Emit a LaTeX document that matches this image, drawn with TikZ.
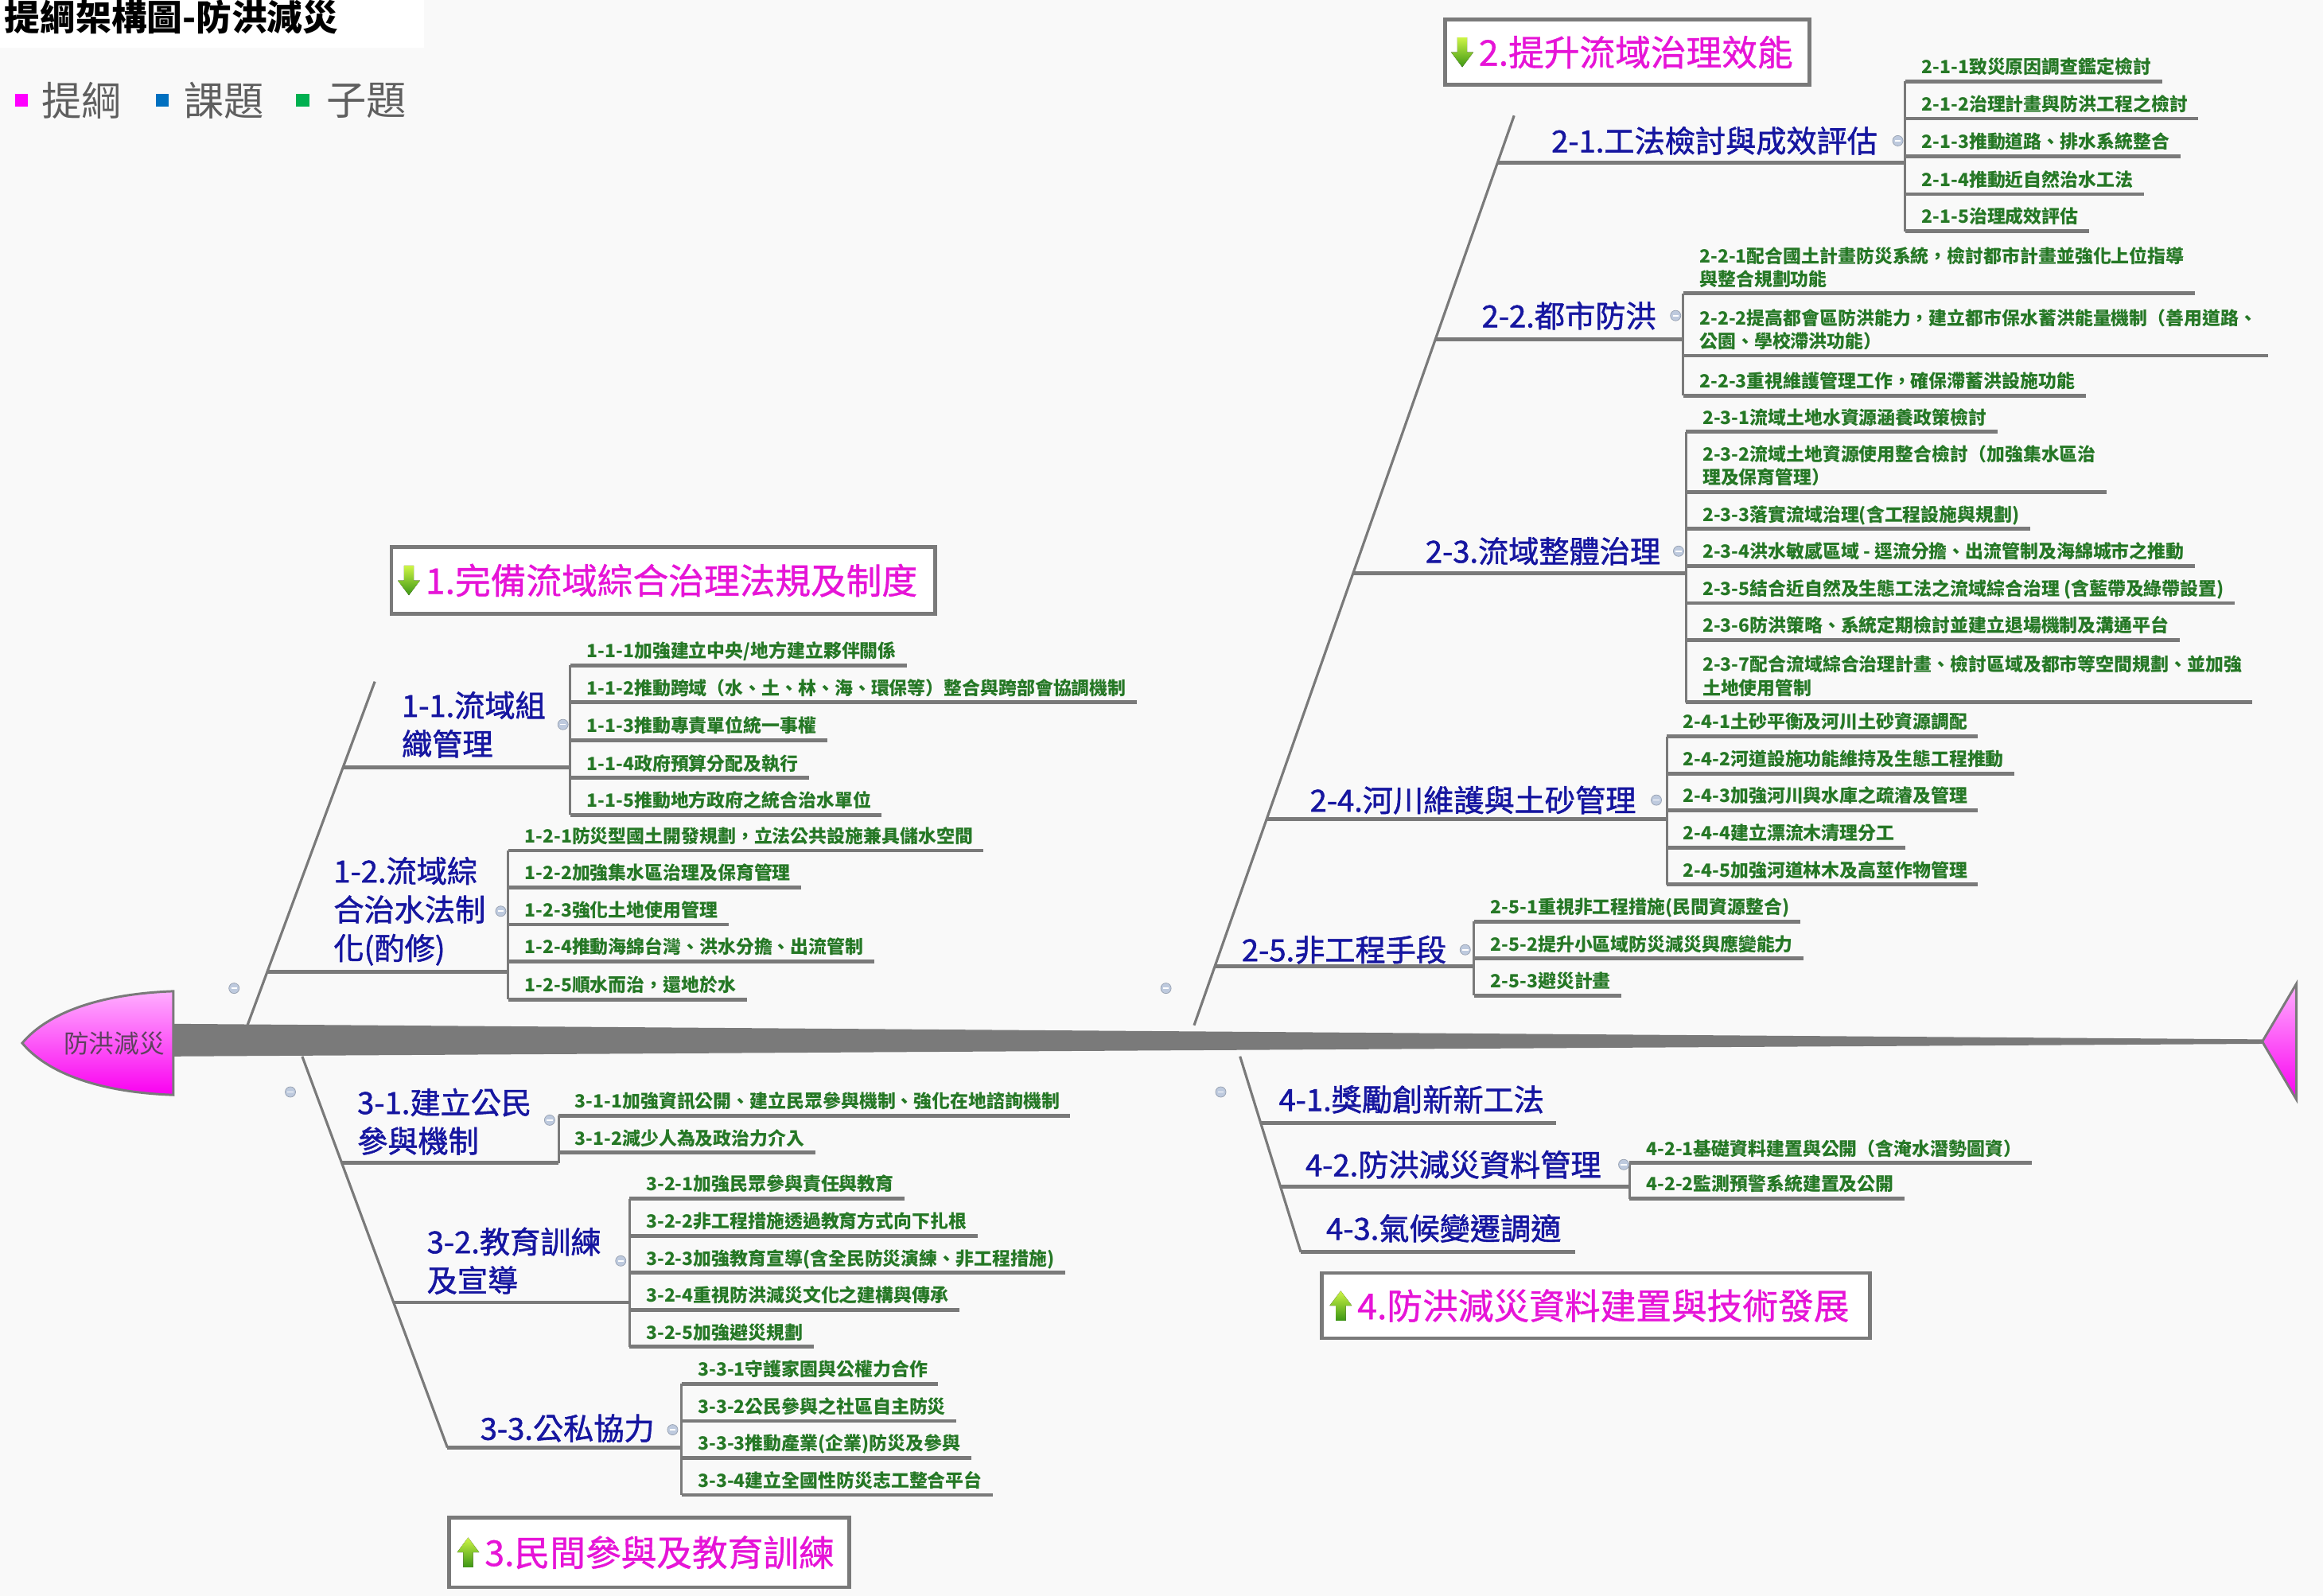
\documentclass[tikz,border=0pt]{standalone}
\usepackage{fontspec}
\setmainfont{Noto Sans CJK TC}
\newfontfamily\bluf[FakeBold=1.4]{Noto Sans CJK TC}
\newfontfamily\magf[FakeBold=0.8]{Noto Sans CJK TC}
\usetikzlibrary{calc}
\definecolor{mag}{RGB}{230,20,215}
\definecolor{blu}{RGB}{22,22,160}
\definecolor{grn}{RGB}{38,120,38}
\definecolor{lin}{RGB}{122,122,122}
\definecolor{bgc}{RGB}{249,249,249}
\definecolor{icn}{RGB}{190,202,222}
\definecolor{lgm}{RGB}{255,0,255}
\definecolor{lgb}{RGB}{0,112,192}
\definecolor{lgg}{RGB}{0,176,80}
\definecolor{lgt}{RGB}{95,95,95}
\definecolor{hdt}{RGB}{95,65,95}
\definecolor{hdA}{RGB}{255,175,255}
\definecolor{hdB}{RGB}{250,0,240}
\definecolor{arrA}{RGB}{205,245,70}
\definecolor{arrB}{RGB}{60,150,20}

\newcommand\lf[4]{\node[leaf] (#1) at (#2,#3) {\hspace*{11pt}#4\hspace*{7pt}};\draw[ul] (#1.south west) -- (#1.south east);}
\newcommand\lftwo[5]{\node[leaf] (#1) at (#2,#3) {\vbox{\hbox{\hspace*{11pt}#4\hspace*{7pt}}\hbox{\hspace*{11pt}#5\hspace*{7pt}}}};\draw[ul] (#1.south west) -- (#1.south east);}
\newcommand\dnarr[1]{\begin{scope}[shift={#1}]\fill[top color=arrA, bottom color=arrB] (-3.3,-10) -- (3.3,-10) -- (3.3,0) -- (7.5,0) -- (0,10) -- (-7.5,0) -- (-3.3,0) -- cycle;\end{scope}}
\newcommand\uparr[1]{\begin{scope}[shift={#1}]\fill[top color=arrA, bottom color=arrB] (-3.3,10) -- (3.3,10) -- (3.3,0) -- (7.5,0) -- (0,-10) -- (-7.5,0) -- (-3.3,0) -- cycle;\end{scope}}

\tikzset{
 leaf/.style={anchor=south west, inner sep=0pt, text depth=5pt, text=grn, font=\fontsize{12.3}{15.6}\selectfont\bfseries},
 ul/.style={draw=lin, line width=2.6pt},
 brk/.style={draw=lin, line width=1.6pt},
 bone/.style={draw=lin, line width=1.7pt},
 sub/.style={anchor=west, inner sep=0pt, text=blu, align=left, font=\bluf\fontsize{20.5}{26}\selectfont},
 catbox/.style={draw=lin, line width=2.5pt, fill=white, inner sep=0pt, anchor=north west},
 cattext/.style={anchor=west, inner sep=0pt, text=mag, font=\magf\fontsize{24}{24}\selectfont},
 cic/.style={circle, inner sep=0pt, minimum size=7pt, fill=icn, draw=icn!80!black, line width=0.4pt,
   path picture={\draw[white, line width=0.9pt] ([xshift=-2pt]path picture bounding box.center) -- ([xshift=2pt]path picture bounding box.center);}},
 leg/.style={anchor=west, inner sep=0pt, text=lgt, font=\fontsize{27}{27}\selectfont}
}

\begin{document}
\begin{tikzpicture}[x=1pt,y=-1pt]
\useasboundingbox (0,0) rectangle (1568,1077);
\fill[bgc] (0,0) rectangle (1568,1077);
\fill[white] (0,0) rectangle (286,32);

% title and legend
\node[anchor=base west, inner sep=0pt, font=\fontsize{24}{24}\selectfont\bfseries] (title) at (3,20.5) {提綱架構圖-防洪減災};
\fill[lgm] (10,63.5) rectangle (19,72);
\node[leg] (lg1) at (28,68) {提綱};
\fill[lgb] (105,63.5) rectangle (114,72);
\node[leg] (lg2) at (124,68) {課題};
\fill[lgg] (200,63.5) rectangle (209,72);
\node[leg] (lg3) at (220,68) {子題};

% bones
\coordinate (s1) at (167,692); \coordinate (t1) at (253,460);
\coordinate (s2) at (806,692); \coordinate (t2) at (1022,78);
\coordinate (s3) at (204,713); \coordinate (t3) at (302,977);
\coordinate (s4) at (837,713); \coordinate (t4) at (878,845);
\draw[bone] (s1) -- (t1);
\draw[bone] (s2) -- (t2);
\draw[bone] (s3) -- (t3);
\draw[bone] (s4) -- (t4);

% spine, head, tail
\fill[lin] (117,691) -- (1527,701.5) -- (1527,704.5) -- (117,713) -- cycle;
\shadedraw[draw=lin, line width=1.6pt, top color=hdA, bottom color=hdB] (117,669) .. controls (62,671) and (30,686) .. (15,704) .. controls (30,722) and (62,737) .. (117,739) -- cycle;
\node[inner sep=0pt, font=\fontsize{17}{17}\selectfont, text=hdt] (head) at (77,704) {防洪減災};
\shadedraw[draw=lin, line width=1.6pt, top color=hdA, bottom color=hdB] (1527,703) -- (1550,664) -- (1550,742) -- cycle;

% ===== category 2 =====
\node[catbox, minimum width=246pt, minimum height=44pt] (k2) at (974,12) {};
\node[cattext] (k2t) at ($(k2.west)+(24,0)$) {2.提升流域治理效能};
\dnarr{($(k2.west)+(13,0)$)}

\node[sub] (n21) at (1047,95) {2-1.工法檢討與成效評估};
\lf{c211}{1286}{55}{2-1-1致災原因調查鑑定檢討}
\lf{c212}{1286}{80}{2-1-2治理計畫與防洪工程之檢討}
\lf{c213}{1286}{105.5}{2-1-3推動道路、排水系統整合}
\lf{c214}{1286}{131}{2-1-4推動近自然治水工法}
\lf{c215}{1286}{156}{2-1-5治理成效評估}
\coordinate (b21) at (1010.7,110);
\draw[ul] (b21) -- (b21 -| c211.south west);
\draw[brk] (c211.south west) -- (c215.south west);

\node[sub] (n22) at (1000,213) {2-2.都市防洪};
\lftwo{c221}{1136}{198}{2-2-1配合國土計畫防災系統，檢討都市計畫並強化上位指導}{與整合規劃功能}
\lftwo{c222}{1136}{240}{2-2-2提高都會區防洪能力，建立都市保水蓄洪能量機制（善用道路、}{公園、學校滯洪功能）}
\lf{c223}{1136}{267}{2-2-3重視維護管理工作，確保滯蓄洪設施功能}
\coordinate (b22) at (968.9,229);
\draw[ul] (b22) -- (b22 -| c221.south west);
\draw[brk] (c221.south west) -- (c223.south west);

\node[sub] (n23) at (962,372) {2-3.流域整體治理};
\lf{c231}{1138}{291.5}{2-3-1流域土地水資源涵養政策檢討}
\lftwo{c232}{1138}{332}{2-3-2流域土地資源使用整合檢討（加強集水區治}{理及保育管理）}
\lf{c233}{1138}{357}{2-3-3落實流域治理(含工程設施與規劃)}
\lf{c234}{1138}{382}{2-3-4洪水敏感區域 - 逕流分擔、出流管制及海綿城市之推動}
\lf{c235}{1138}{407}{2-3-5結合近自然及生態工法之流域綜合治理 (含藍帶及綠帶設置)}
\lf{c236}{1138}{432}{2-3-6防洪策略、系統定期檢討並建立退場機制及溝通平台}
\lftwo{c237}{1138}{474}{2-3-7配合流域綜合治理計畫、檢討區域及都市等空間規劃、並加強}{土地使用管制}
\coordinate (b23) at (913.3,387);
\draw[ul] (b23) -- (b23 -| c231.south west);
\draw[brk] (c231.south west) -- (c237.south west);

\node[sub] (n24) at (884,540) {2-4.河川維護與土砂管理};
\lf{c241}{1125}{497}{2-4-1土砂平衡及河川土砂資源調配}
\lf{c242}{1125}{522}{2-4-2河道設施功能維持及生態工程推動}
\lf{c243}{1125}{547}{2-4-3加強河川與水庫之疏濬及管理}
\lf{c244}{1125}{572}{2-4-4建立漂流木清理分工}
\lf{c245}{1125}{597}{2-4-5加強河道林木及高莖作物管理}
\coordinate (b24) at (854.9,553);
\draw[ul] (b24) -- (b24 -| c241.south west);
\draw[brk] (c241.south west) -- (c245.south west);

\node[sub] (n25) at (838,641) {2-5.非工程手段};
\lf{c251}{995}{622}{2-5-1重視非工程措施(民間資源整合)}
\lf{c252}{995}{647}{2-5-2提升小區域防災減災與應變能力}
\lf{c253}{995}{672}{2-5-3避災計畫}
\coordinate (b25) at (820.1,652);
\draw[ul] (b25) -- (b25 -| c251.south west);
\draw[brk] (c251.south west) -- (c253.south west);

% ===== category 1 =====
\node[catbox, minimum width=367pt, minimum height=45pt] (k1) at (263,368) {};
\node[cattext] (k1t) at ($(k1.west)+(24,0)$) {1.完備流域綜合治理法規及制度};
\dnarr{($(k1.west)+(13,0)$)}

\node[sub] (n11) at (271,489) {1-1.流域組\\織管理};
\lf{c111}{385}{449}{1-1-1加強建立中央/地方建立夥伴關係}
\lf{c112}{385}{474}{1-1-2推動跨域（水、土、林、海、環保等）整合與跨部會協調機制}
\lf{c113}{385}{499.5}{1-1-3推動專責單位統一事權}
\lf{c114}{385}{525}{1-1-4政府預算分配及執行}
\lf{c115}{385}{550}{1-1-5推動地方政府之統合治水單位}
\coordinate (b11) at (231.6,518);
\draw[ul] (b11) -- (b11 -| c111.south west);
\draw[brk] (c111.south west) -- (c115.south west);

\node[sub] (n12) at (225,615) {1-2.流域綜\\合治水法制\\化(酌修)};
\lf{c121}{343}{574}{1-2-1防災型國土開發規劃，立法公共設施兼具儲水空間}
\lf{c122}{343}{599}{1-2-2加強集水區治理及保育管理}
\lf{c123}{343}{624}{1-2-3強化土地使用管理}
\lf{c124}{343}{649}{1-2-4推動海綿台灣、洪水分擔、出流管制}
\lf{c125}{343}{674.5}{1-2-5順水而治，還地於水}
\coordinate (b12) at (180.4,656);
\draw[ul] (b12) -- (b12 -| c121.south west);
\draw[brk] (c121.south west) -- (c125.south west);

% ===== category 3 =====
\node[sub] (n31) at (241,757) {3-1.建立公民\\參與機制};
\lf{c311}{377}{753}{3-1-1加強資訊公開、建立民眾參與機制、強化在地諮詢機制}
\lf{c312}{377}{778}{3-1-2減少人為及政治力介入}
\coordinate (b31) at (230.7,785);
\draw[ul] (b31) -- (b31 -| c311.south west);
\draw[brk] (c311.south west) -- (b31 -| c311.south west);

\node[sub] (n32) at (288,851) {3-2.教育訓練\\及宣導};
\lf{c321}{425}{809}{3-2-1加強民眾參與責任與教育}
\lf{c322}{425}{834}{3-2-2非工程措施透過教育方式向下扎根}
\lf{c323}{425}{859}{3-2-3加強教育宣導(含全民防災演練、非工程措施)}
\lf{c324}{425}{884}{3-2-4重視防洪減災文化之建構與傳承}
\lf{c325}{425}{909}{3-2-5加強避災規劃}
\coordinate (b32) at (265.6,879);
\draw[ul] (b32) -- (b32 -| c321.south west);
\draw[brk] (c321.south west) -- (c325.south west);

\node[sub] (n33) at (324,964) {3-3.公私協力};
\lf{c331}{460}{934}{3-3-1守護家園與公權力合作}
\lf{c332}{460}{959}{3-3-2公民參與之社區自主防災}
\lf{c333}{460}{984}{3-3-3推動產業(企業)防災及參與}
\lf{c334}{460}{1009}{3-3-4建立全國性防災志工整合平台}
\coordinate (b33) at (302,977);
\draw[ul] (b33) -- (b33 -| c331.south west);
\draw[brk] (c331.south west) -- (c334.south west);

\node[catbox, minimum width=270pt, minimum height=47pt] (k3) at (302,1023) {};
\node[cattext] (k3t) at ($(k3.west)+(25,0)$) {3.民間參與及教育訓練};
\uparr{($(k3.west)+(14,0)$)}

% ===== category 4 =====
\node[sub] (n41) at (863,742) {4-1.獎勵創新新工法};
\coordinate (b41) at (851,758);
\draw[ul] (b41) -- ($(b41 -| n41.east)+(8,0)$);

\node[sub] (n42) at (881,786) {4-2.防洪減災資料管理};
\lf{c421}{1100}{785}{4-2-1基礎資料建置與公開（含淹水潛勢圖資）}
\lf{c422}{1100}{809}{4-2-2監測預警系統建置及公開}
\coordinate (b42) at (864.3,801);
\draw[ul] (b42) -- (b42 -| c421.south west);
\draw[brk] (c421.south west) -- (c422.south west);

\node[sub] (n43) at (895,829) {4-3.氣候變遷調適};
\coordinate (b43) at (878,845);
\draw[ul] (b43) -- ($(b43 -| n43.east)+(9,0)$);

\node[catbox, minimum width=370pt, minimum height=44pt] (k4) at (891,858) {};
\node[cattext] (k4t) at ($(k4.west)+(25,0)$) {4.防洪減災資料建置與技術發展};
\uparr{($(k4.west)+(14,0)$)}

% collapse icons
\node[cic] (i21) at (1281,95) {};
\node[cic] (i22) at (1131,213) {};
\node[cic] (i23) at (1133,372) {};
\node[cic] (i24) at (1118,540) {};
\node[cic] (i25) at (989,641) {};
\node[cic] (i11) at (380,489) {};
\node[cic] (i12) at (338,615) {};
\node[cic] (i31) at (371,756) {};
\node[cic] (i32) at (419,851) {};
\node[cic] (i33) at (454,965) {};
\node[cic] (i42) at (1096,786) {};
\node[cic] (m1) at (158,667) {};
\node[cic] (m2) at (787,667) {};
\node[cic] (m3) at (196,737) {};
\node[cic] (m4) at (824,737) {};
\end{tikzpicture}
\end{document}
